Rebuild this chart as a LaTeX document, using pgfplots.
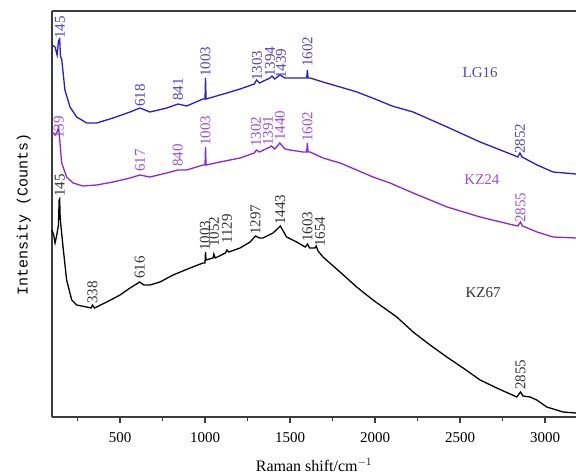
\documentclass[border=0pt]{standalone}
\usepackage{fontspec}
\setmainfont{Liberation Serif}
\newfontfamily\monofont{Liberation Mono}
\usepackage{pgfplots}
\pgfplotsset{compat=1.18}
\definecolor{lgblue}{RGB}{40,30,200}
\definecolor{lgtext}{RGB}{80,70,195}
\definecolor{kzpurple}{RGB}{135,40,220}
\definecolor{kztext}{RGB}{155,80,215}
\definecolor{axgray}{RGB}{60,60,60}

\begin{document}
\fontsize{15}{18}\selectfont
\begin{tikzpicture}
\useasboundingbox (0,0) rectangle (576pt,475pt);
\clip (0,0) rectangle (576pt,475pt);
\begin{axis}[
    at={(52pt,58pt)}, anchor=south west,
    scale only axis,
    width=524pt, height=406pt,
    xmin=100, xmax=3182, ymin=0, ymax=406,
    axis x line*=box, axis y line*=left,
    axis line style={axgray, line width=1.4pt},
    xtick={500,1000,...,3000},
    minor xtick={250,750,...,3250},
    xtick pos=left, tick align=outside,
    major tick length=6pt, minor tick length=4pt,
    every tick/.style={axgray, line width=1.2pt},
    ytick=\empty,
    /pgf/number format/assume math mode=true,
    /pgf/number format/1000 sep={},
    tick label style={font=\fontsize{15}{18}\selectfont},
    xticklabel style={yshift=-4pt},
    xlabel={Raman shift/cm$^{-1}$},
    xlabel style={font=\fontsize{16}{18}\selectfont, yshift=-6pt},
    ylabel={\monofont Intensity (Counts)},
    ylabel style={font=\fontsize{15}{18}\selectfont, yshift=10pt},
    clip=false,
    every node/.append style={font=\fontsize{15}{18}\selectfont},
]
% LG16
\addplot[lgblue, line width=1.3pt] coordinates {
(100,372) (118,370) (130,362) (138,376) (145,378) (150,360) (157,358)
(176,327) (206,310) (245,300) (304,294) (363,294) (459,299) (559,305)
(618,309) (676,305) (775,309) (841,313) (892,311) (988,318) (1000,318)
(1003,339) (1006,318) (1047,320) (1129,324) (1206,328) (1290,333) (1303,337)
(1320,334) (1382,339) (1394,341) (1410,338) (1441,342) (1470,339) (1500,339)
(1576,339) (1598,339) (1602,347) (1606,339) (1618,339) (1694,335) (1794,330)
(1894,325) (2000,318) (2100,311) (2224,305) (2424,290) (2618,275) (2812,262)
(2840,260) (2852,264) (2865,260) (2953,252) (3047,245) (3182,243)
};
% KZ24
\addplot[kzpurple, line width=1.3pt] coordinates {
(100,285) (120,282) (132,286) (139,290) (146,276) (157,254) (186,240)
(224,234) (282,231) (363,232) (459,235) (559,239) (617,242) (676,240)
(775,244) (840,247) (892,247) (988,252) (1000,252) (1003,270) (1006,252)
(1088,255) (1206,259) (1290,264) (1302,267) (1320,265) (1382,270) (1391,271)
(1410,268) (1440,274) (1470,268) (1500,267) (1576,265) (1598,265) (1602,274)
(1606,265) (1618,265) (1694,259) (1794,254) (1892,247) (1988,240) (2088,234)
(2224,224) (2424,210) (2618,200) (2812,192) (2840,191) (2855,195) (2868,191)
(2953,185) (3047,180) (3182,179)
};
% KZ67
\addplot[black, line width=1.3pt] coordinates {
(100,187) (110,182) (118,174) (128,182) (138,192) (142,217) (145,218)
(148,200) (152,192) (165,170) (186,137) (216,117) (245,112) (304,110)
(330,109) (338,112) (350,109) (422,115) (500,122) (559,129) (616,135)
(640,132) (676,132) (735,135) (812,142) (912,149) (988,154) (1000,154)
(1003,165) (1006,157) (1047,159) (1052,163) (1060,159) (1120,164) (1129,167)
(1140,165) (1206,169) (1265,175) (1297,181) (1320,179) (1341,179) (1400,184)
(1443,191) (1480,180) (1539,175) (1590,170) (1603,173) (1615,169) (1647,169)
(1654,171) (1665,166) (1694,160) (1794,145) (1892,130) (1988,117) (2029,112)
(2128,100) (2224,85) (2324,72) (2422,60) (2518,49) (2618,37) (2716,29)
(2834,20) (2855,25) (2870,21) (2912,20) (2951,17) (3010,10) (3106,5) (3182,4)
};
% peak labels LG16
\begin{scope}[every node/.style={rotate=90, anchor=west, inner sep=1pt, text=lgtext, font=\fontsize{15}{18}\selectfont}]
\node at (axis cs:147,377) {145};
\node at (axis cs:618,309) {618};
\node at (axis cs:841,315) {841};
\node at (axis cs:1003,339) {1003};
\node at (axis cs:1306,335) {1303};
\node at (axis cs:1382,339) {1394};
\node at (axis cs:1447,337) {1439};
\node at (axis cs:1602,349) {1602};
\node at (axis cs:2852,262) {2852};
\end{scope}
% peak labels KZ24
\begin{scope}[every node/.style={rotate=90, anchor=west, inner sep=1pt, text=kztext, font=\fontsize{15}{18}\selectfont}]
\node at (axis cs:139,277) {139};
\node at (axis cs:617,244) {617};
\node at (axis cs:840,249) {840};
\node at (axis cs:1003,270) {1003};
\node at (axis cs:1300,269) {1302};
\node at (axis cs:1370,270) {1391};
\node at (axis cs:1441,275) {1440};
\node at (axis cs:1602,274) {1602};
\node at (axis cs:2855,193) {2855};
\end{scope}
% peak labels KZ67
\begin{scope}[every node/.style={rotate=90, anchor=west, inner sep=1pt, text=black!80, font=\fontsize{15}{18}\selectfont}]
\node at (axis cs:145,219) {145};
\node at (axis cs:338,112) {338};
\node at (axis cs:616,137) {616};
\node at (axis cs:1000,165) {1003};
\node at (axis cs:1053,169) {1052};
\node at (axis cs:1129,172) {1129};
\node at (axis cs:1297,181) {1297};
\node at (axis cs:1443,191) {1443};
\node at (axis cs:1603,174) {1603};
\node at (axis cs:1676,169) {1654};
\node at (axis cs:2855,26) {2855};
\end{scope}
% sample names
\node[text=lgtext] at (axis cs:2618,344) {LG16};
\node[text=kztext] at (axis cs:2629,237) {KZ24};
\node[text=black!80] at (axis cs:2635,124) {KZ67};
\end{axis}
\end{tikzpicture}
\end{document}
